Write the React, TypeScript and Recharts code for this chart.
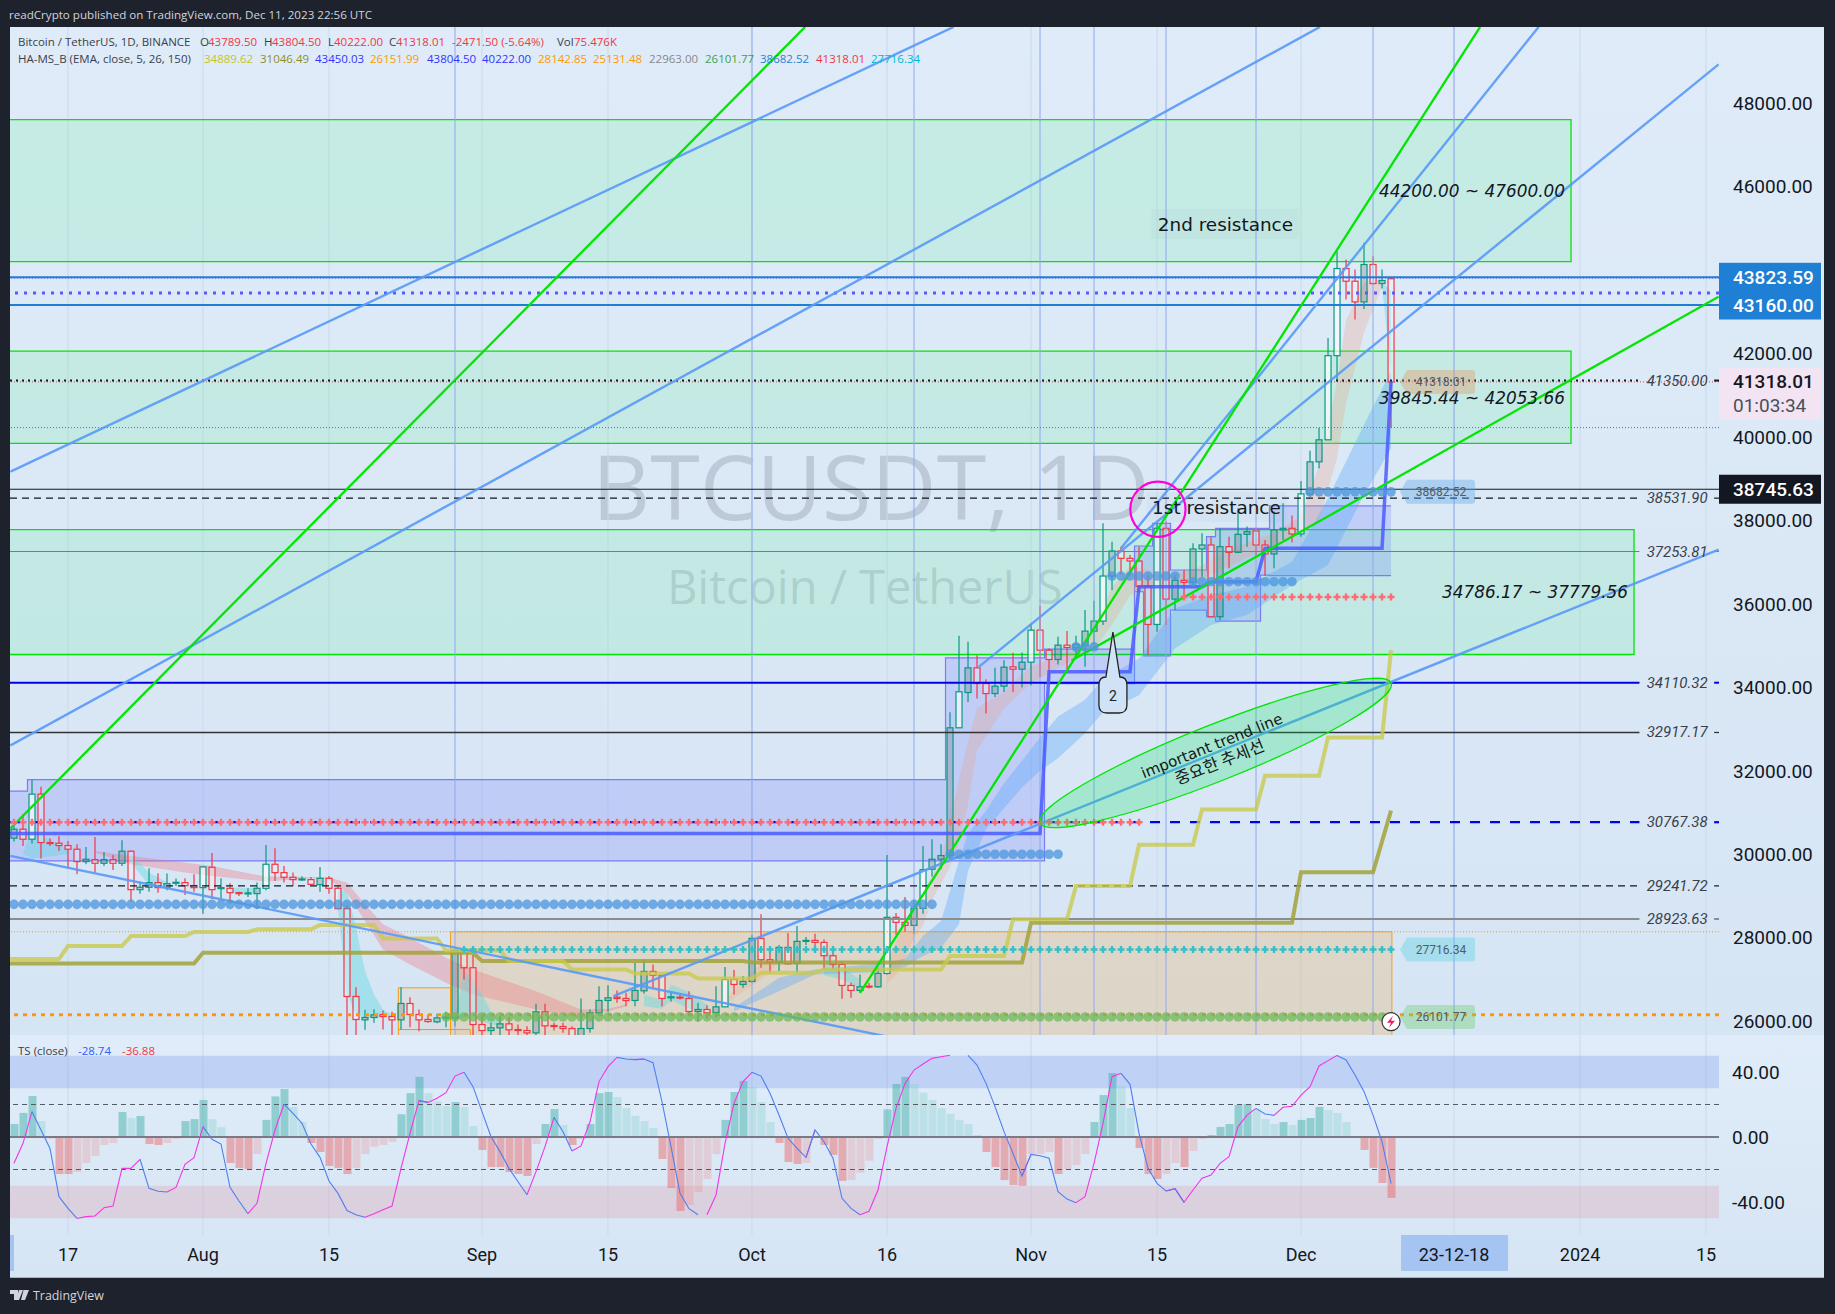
import React from "react";
import { ComposedChart, Bar, Line, Area, XAxis, YAxis, CartesianGrid, ReferenceLine, ReferenceArea, ReferenceDot, Cell } from "recharts";

const opens = [30384,30600,30360,31440,30280,30264,30208,30120,29824,29872,29784,29872,29784,30072,29152,29208,29320,29200,29304,29320,29248,29200,29688,29184,29184,29080,29056,29056,29184,29760,29560,29448,29392,29392,29272,29424,29184,28696,26592,26032,26088,26160,26112,26032,26424,26160,26040,25984,26080,26080,27696,27280,25920,25776,25840,25936,25800,25776,25720,26224,25896,25872,25824,25600,25824,26200,26496,26576,26544,26496,26728,27192,27096,26568,26576,26544,26232,26280,26208,26344,27000,26880,26952,27984,27472,27408,27768,27384,27912,27936,27888,27568,27360,26856,26736,26840,26824,27144,28488,28368,28296,28704,29640,29880,29968,33030,33874,34466,34090,33850,34026,34490,34434,34602,35370,34890,34666,35010,34946,35010,35346,35586,36666,37266,37090,37026,36418,35506,37810,36114,36562,36514,37314,37410,35690,37370,37234,37666,37746,37410,37194,37770,37810,37674,38634,39402,39930,41946,44034,43730,43234,44130,43674,43789.5];
const highs = [30800,30960,31776,31616,30384,30440,30320,30240,30176,30416,30056,29984,30336,30090,29344,29664,29544,29536,29416,29424,29520,29712,30032,29424,29304,29104,29184,29320,30224,30144,29720,29560,29472,29456,29696,29480,29240,28784,26816,26272,26288,26256,26224,26816,26576,26280,26160,26176,26224,27720,27720,27584,26144,25960,26120,26096,25920,25880,26416,26416,25960,25960,25880,26544,26280,26840,26864,26736,26680,27392,27464,27360,27120,26720,26640,26720,26440,26384,26840,27296,27224,27080,28064,28560,27664,27824,28112,28280,28016,28096,27960,27760,27440,26920,27120,26920,27280,29984,28592,28976,28896,30200,30360,30240,33400,35237,35090,34770,34194,34466,34650,34826,34834,35530,35954,34930,35210,35346,35234,35850,36074,37930,37490,37370,37170,37370,36690,37930,37970,36690,36810,37450,37690,37610,37810,37610,38290,37850,37810,37530,38210,38410,38114,38946,39666,40210,42370,44450,44250,44010,44650,44330,44010,43804.5];
const lows = [30304,30200,30256,29896,30200,30080,29664,29520,29760,29560,29720,29624,29720,28864,29056,29104,29080,29136,29240,29024,29104,28576,28928,28944,28816,29000,28976,28688,29136,29360,29320,29240,29360,29264,29104,29056,28680,25400,25300,25792,25960,25800,25500,25800,25856,25760,25960,25952,25856,25880,27000,25500,25500,25500,25500,25500,25500,25500,25500,25500,25776,25720,25500,25500,25720,26144,26224,26440,26360,26360,26656,26800,26360,26464,26520,26120,25984,26064,26096,26344,26640,26800,26920,27280,27152,27200,27360,27152,27824,27680,27248,27240,26536,26560,26680,26784,26800,27120,28080,28144,28096,28576,29464,29640,29900,33030,33650,33730,33370,33770,33890,33890,33994,34050,34250,34090,34546,34434,34690,34490,35010,35490,36330,36690,36674,36290,34770,35330,35490,35850,36130,36450,36650,35690,35610,36850,37210,37370,37130,36674,36850,37530,37474,37610,38570,39250,39930,41370,43290,42810,43066,43650,43554,40222];
const closes = [30600,30360,31440,30280,30272,30208,30120,29824,29880,29784,29872,29784,30072,29152,29208,29320,29200,29296,29328,29248,29200,29696,29152,29200,29080,29056,29072,29184,29760,29560,29448,29392,29408,29280,29424,29184,28696,26592,26040,26088,26152,26112,26032,26424,26160,26032,25992,26080,26096,27696,27280,25920,25776,25840,25936,25792,25776,25720,26224,25888,25880,25824,25600,25824,26200,26496,26560,26544,26496,26736,27192,27096,26544,26584,26560,26232,26280,26200,26344,27000,26880,26952,27984,27472,27408,27768,27376,27912,27936,27888,27568,27360,26856,26736,26824,26824,27144,28488,28368,28296,28704,29632,29880,29968,33030,33893,34466,34090,33850,34026,34482,34434,34602,35370,34890,34666,35010,34954,35026,35346,35586,36666,37266,37090,37026,36418,35506,37810,36114,36562,36514,37314,37410,35690,37370,37234,37666,37730,37410,37194,37770,37810,37674,38634,39402,39930,41946,44034,43730,43234,44130,43674,43746,41318.01];
const whiteBodies = [2,21,28,79,97,101,105,113,121,127,143,146,147];

const priceGrid = [26000,28000,30000,32000,34000,36000,38000,40000,42000,44000,46000,48000];
const priceTicks = [26000,28000,30000,32000,34000,36000,38000,40000,42000,46000,48000];
const dateTicks = [6,21,35,52,66,82,97,113,127,143,160,174,188];
const dateLabels = ["17","Aug","15","Sep","15","Oct","16","Nov","15","Dec","23-12-18","2024","15"];
const blueVerticals = [49,82,100,114,120,128,138,151,160];

const resistanceZones = [
  { to: 173, lo: 44200, hi: 47600 },
  { to: 173, lo: 39845.44, hi: 42053.66 },
  { to: 180, lo: 34786.17, hi: 37779.56 },
];

const fullLines = [
  { price: 43823.59, color: "#1f7fd4", w: 2, dash: "" },
  { price: 43160, color: "#1f7fd4", w: 2, dash: "" },
  { price: 43450.03, color: "#5a5aff", w: 3, dash: "3 6" },
  { price: 43804.5, color: "#5a5aff", w: 1, dash: "1 2" },
  { price: 41318.01, color: "#f23645", w: 1, dash: "1 2" },
  { price: 40222, color: "#5a5aff", w: 1, dash: "1 2" },
  { price: 38745.63, color: "#131722", w: 1.2, dash: "" },
  { price: 28142.85, color: "#ff9800", w: 1, dash: "1 2" },
  { price: 26151.99, color: "#ff9800", w: 3, dash: "4 5" },
];
const labelledLines = [
  { price: 41350, color: "#131722", w: 2, dash: "2 4", text: "41350.00" },
  { price: 38531.9, color: "#131722", w: 1.2, dash: "7 5", text: "38531.90" },
  { price: 37253.81, color: "#c85a5a", w: 1, dash: "", text: "37253.81" },
  { price: 34110.32, color: "#0000e6", w: 2, dash: "", text: "34110.32" },
  { price: 32917.17, color: "#333333", w: 1.3, dash: "", text: "32917.17" },
  { price: 30767.38, color: "#0000f0", w: 2.2, dash: "10 10", text: "30767.38" },
  { price: 29241.72, color: "#131722", w: 1.2, dash: "7 5", text: "29241.72" },
  { price: 28448, color: "#8c8c8c", w: 2, dash: "", text: "28923.63" },
];

const blueTrends = [
  [-0.4, 39168, 104.4, 49823],
  [-0.4, 32606, 145.1, 49823],
  [-0.4, 29960, 96.8, 25640],
  [66.6, 26600, 189.4, 37300],
  [107.2, 34490, 189.4, 48926],
  [123, 37330, 169.4, 49823],
];
const greenTrends = [
  [-0.4, 30620, 87.9, 49823],
  [94, 26680, 162.9, 49823],
  [117.5, 34640, 189.4, 43360],
];

const yellowSteps = [[-1,27488],[5,27488],[6,27800],[12,27800],[13,28040],[19,28040],[20,28136],[26,28136],[27,28200],[33,28200],[34,28304],[40,28304],[41,27984],[47,27984],[48,27696],[54,27696],[55,27440],[61,27440],[62,27240],[68,27240],[69,27140],[75,27140],[76,27024],[82,27024],[83,27160],[89,27160],[90,27240],[103,27240],[104,27560],[110,27560],[111,28440],[117,28440],[118,29240],[124,29240],[125,30228],[131,30228],[132,31070],[138,31070],[139,31880],[145,31880],[146,32800],[152,32800],[153,34889.62]];
const oliveSteps = [[-1,27384],[20,27384],[21,27640],[51,27640],[52,27440],[81,27440],[82,27408],[112,27408],[113,28360],[142,28360],[143,29570],[151,29570],[153,31046.49]];
const trendStair = [[-1,30500],[114,30500],[115,34370],[124,34370],[125,36410],[132,36410],[133,36530],[138,36530],[139,37330],[152,37330],[153,41318]];

const boxSteps = [
  [-1,1,29840,31510],[2,103,29840,31790],[104,114,29840,34706],[115,124,34090,34914],[125,125,36290,37386],[126,126,34754,37386],[127,128,34754,37930],[129,132,35850,36810],[133,133,35690,37610],[134,138,35586,37810],[139,139,36690,37810],[140,153,36674,38346],
];

const pinkFall = [[9,30040,30080],[13,29760,29960],[19,29560,29800],[22,29480,29720],[28,29344,29464],[33,29424,29456],[35,29400,29440],[37,29080,29320],[39,28400,28800],[41,27720,28320],[44,27360,28000],[48,26920,27520],[51,26640,27240],[58,26280,26720],[63,26080,26280],[66,26240,26300],[68,26350,26400]];
const tealOne = [[1,30000,30020],[2,29900,30600],[4,29950,30350],[6,30000,30120]];
const tealTwo = [[13,29800,30000],[15,29260,29560],[17,29250,29330]];
const tealThree = [[24,29080,29200],[27,29060,29200]];
const tealFour = [[36,28700,29150],[37,26640,29120],[38,26160,28240],[39,26080,27200],[40,26080,26640],[41,26080,26280],[42,26090,26160]];
const tealFive = [[49,26000,26100],[50,26100,27200],[51,26100,26960],[52,26000,26640],[53,25920,26240],[54,25900,26000]];
const tealSix = [[70,26360,26640],[72,26300,26500],[73,26500,26880],[75,26300,26700],[77,26260,26400]];
const tealSeven = [[90,27100,27760],[92,27000,27300],[94,26800,27000]];
const tealEight = [[152,43600,43700],[153,41600,43500]];
const skyRise = [[80,26240,26320],[85,26720,27040],[89,27120,27240],[97,27184,27400],[99,27300,27500],[101,27560,28040],[103,27760,28400],[105,28320,29840],[106,29600,30500],[108,30600,31040],[110,31100,31700],[112,31600,32240],[114,32000,32800],[116,32300,33300],[119,32900,33700],[121,33400,34200],[125,33810,34690],[129,34930,35890],[133,35490,36210],[137,35730,36410],[142,36450,37010],[146,36930,38530],[150,38610,40290],[153,39730,41570]];
const peachRise = [[79,26400,26500],[83,27000,27400],[85,27400,27500]];
const peachRiseTwo = [[97,26900,27400],[98,27100,27900],[99,27500,28400],[100,28000,28700],[101,28300,29100],[102,28900,29500],[103,29300,29900],[104,29700,30800],[105,30300,31800],[106,31200,32700],[107,32500,33500],[110,33500,33900],[113,34100,34500],[118,34700,34900],[120,34900,35400],[122,35500,36400],[124,36200,36900],[128,36600,36700],[131,36500,36800],[135,36900,37300],[140,37400,37700],[143,37700,38100],[145,38000,39300],[147,39500,41300],[148,40800,42800],[150,42500,43700],[152,43600,43800]];

const blueDotRuns = [[0,102,28800],[104,116,30000],[118,120,34970],[122,129,36666],[131,142,36530],[144,153,38682.52]];
const greenDotRuns = [[48,153,26101.77]];
const redPlusRuns = [[0,125,30767.38],[130,153,36164]];
const tealPlusRuns = [[50,153,27716.34]];

const histValues = [8,14.8,25.2,9.8,-1,-22.8,-22.8,-21.5,-16,-11.7,-4.9,-3.7,15.4,11.7,12.9,-4.3,-4.9,-3.7,-1.2,9.8,11,22.8,11,6,-16,-19,-19.7,-10.5,10.5,25,29.5,18.5,9.2,-3.7,-9.2,-17.8,-19,-22.8,-19,-10.5,-6,-4.9,-3,14,27,37,27,22,19,21.5,18.5,6.8,-8,-18.5,-18.5,-21.5,-22.8,-24,-4.3,8,17.2,7.4,-4.9,-1.2,8,27,27.7,24.6,17.8,13,9.8,5.5,-13.5,-31.4,-45.5,-41.8,-33.8,-25.8,-10.5,10.5,27.7,34.5,30.8,21.5,9.2,-3.7,-15.4,-16.6,-16,0,-4.9,-11,-27,-26.5,-22,-14.6,-1.2,17,32.6,37,32.6,27.3,22.8,17.8,14.2,10.5,8,1.2,-9.2,-18.5,-26.5,-29.5,-30,-10.5,-10.5,-9.2,-22.8,-20,-17.2,-10.5,9.2,25.8,39.4,31.4,17.8,-6.8,-22.8,-25.8,-22.8,-16,-18.5,-8.6,-1.2,1.2,6.2,8,19.7,20.3,17.2,11,8,9.2,7.4,10.5,11.7,18.5,16.6,14.8,9.2,0,-8,-19,-28.3,-37.5];
const histTones = "GGGgrRRrrrrrGgGRRrrGGGggRRRrGGGggRRRRRrrrrrGGGgggGggRRRRRRrGGgRrGGGgggggRRRrrrrGGGgggRRRrgRRRrrrrGGGggggggggRRRRRrrrRrrrGGGggRRRrrRrrGGGGGgggGgGGGgggrRRRR";
const tsValues = [-16.2,-3.9,15.6,4.3,-7,-36.7,-43.9,-50.1,-49,-48.6,-43.5,-42.5,-19.3,-19.3,-13.7,-31.6,-33.4,-33.8,-31,-16.8,-12.7,6.4,-1.4,-4.3,-31,-39.4,-47.2,-40.8,-16.2,4.3,20.3,14.6,8.4,-4.3,-12.5,-27.1,-34.7,-45.3,-47.8,-49.4,-47.2,-44.7,-42.5,-19.3,2.3,22.4,21.3,23.8,27.3,37.5,39.8,31,15.6,0.2,-9,-19.3,-27.5,-35.5,-21.3,-5.9,12.1,3.3,-8.6,-5.5,9.4,34.1,43.3,49,48,47.6,48,45.7,21.7,-5.9,-34.7,-44.1,-47.8,-47.8,-35.7,-3.9,20.7,34.1,39.8,37.5,26.9,13.5,-0.8,-7,-12.5,4.3,-2.9,-13.1,-37.7,-43.9,-47.8,-45.7,-32.6,-5.9,17.6,33,41.2,44.9,48.4,49.4,50.3,50.3,50.3,44.3,33,18.7,3.3,-10.1,-24,-10.7,-11.5,-13.1,-33.6,-38.2,-40.4,-36.7,-16.2,8.4,37.1,39.2,32.4,2.3,-19.3,-28.5,-33.2,-31.8,-40.2,-32.6,-25.4,-23.4,-16.2,-12.1,6.4,13.5,17.6,14.2,13.3,18.3,18.9,25.8,31,43.7,47,50.1,47.4,38.2,27.9,13.5,-2.9,-28.74];

const legendLine1 = [
  [18, "Bitcoin / TetherUS, 1D, BINANCE", "#3a3f4b"], [200, "O", "#3a3f4b"], [208, "43789.50", "#f23645"], [264, "H", "#3a3f4b"], [272, "43804.50", "#f23645"], [328, "L", "#3a3f4b"], [334, "40222.00", "#f23645"], [389, "C", "#3a3f4b"], [396, "41318.01", "#f23645"], [452, "-2471.50 (-5.64%)", "#f23645"], [557, "Vol", "#3a3f4b"], [574, "75.476K", "#f23645"],
];
const legendLine2 = [
  [18, "HA-MS_B (EMA, close, 5, 26, 150)", "#3a3f4b"], [204, "34889.62", "#c6c617"], [260, "31046.49", "#8f8f1e"], [315, "43450.03", "#3333ff"], [370, "26151.99", "#ff9800"], [427, "43804.50", "#3333ff"], [482, "40222.00", "#3333ff"], [538, "28142.85", "#ff9800"], [593, "25131.48", "#ff9800"], [649, "22963.00", "#888888"], [705, "26101.77", "#43a047"], [760, "38682.52", "#2a7fd0"], [816, "41318.01", "#f23645"], [871, "27716.34", "#00b8d4"],
];

const rows: any[] = [];
for (let i = -1; i <= 190; i++) {
  const row: any = { i };
  if (i >= 0 && i < opens.length) {
    row.range = [lows[i], highs[i]];
    row.open = opens[i]; row.close = closes[i]; row.high = highs[i]; row.low = lows[i];
  }
  rows.push(row);
}
const rowAt = (i: number) => rows[i + 1];
const putRibbon = (key: string, list: number[][]) => list.forEach(([i, lo, hi]) => { rowAt(i)[key] = [lo, hi]; });
const putPoints = (key: string, list: number[][]) => list.forEach(([i, v]) => { rowAt(i)[key] = v; });
const putRuns = (key: string, list: number[][]) => list.forEach(([a, b, v]) => { for (let i = a; i <= b; i++) rowAt(i)[key] = v; });
boxSteps.forEach(([a, b, lo, hi]) => { for (let i = a; i <= b; i++) rowAt(i).box = [lo, hi]; });
const ribbons: [string, number[][], string][] = [
  ["pink", pinkFall, "rgba(240,120,130,0.36)"], ["t1", tealOne, "rgba(90,215,225,0.4)"], ["t2", tealTwo, "rgba(90,215,225,0.4)"], ["t3", tealThree, "rgba(90,215,225,0.4)"], ["t4", tealFour, "rgba(90,215,225,0.4)"], ["t5", tealFive, "rgba(90,215,225,0.4)"], ["t6", tealSix, "rgba(90,215,225,0.4)"], ["t7", tealSeven, "rgba(90,215,225,0.4)"], ["t8", tealEight, "rgba(90,215,225,0.4)"],
  ["sky", skyRise, "rgba(90,165,250,0.36)"], ["p1", peachRise, "rgba(240,150,120,0.22)"], ["p2", peachRiseTwo, "rgba(240,150,120,0.25)"],
];
ribbons.forEach(([k, l]) => putRibbon(k, l));
putPoints("yellow", yellowSteps); putPoints("olive", oliveSteps); putPoints("stair", trendStair);
putRuns("blueDots", blueDotRuns); putRuns("greenDots", greenDotRuns); putRuns("redPlus", redPlusRuns); putRuns("tealPlus", tealPlusRuns);

const subRows = histValues.map((h, i) => {
  const v = tsValues[i], prev = tsValues[i - 1], next = tsValues[i + 1];
  return {
    i, hist: h, tone: histTones[i],
    up: (prev !== undefined && v > prev) || (next !== undefined && next > v) ? v : null,
    down: (prev !== undefined && v < prev) || (next !== undefined && next < v) ? v : null,
  };
});
const toneColor: any = { G: "rgba(38,166,154,0.42)", g: "rgba(120,205,200,0.32)", R: "rgba(239,83,80,0.42)", r: "rgba(240,130,130,0.27)" };

const X_MIN = -0.444, X_MAX = 189.44;
const PRICE_MIN = 25669, PRICE_MAX = 49821;
const sans = "Roboto, 'Open Sans', sans-serif";
const tvText = "'Open Sans', Roboto, sans-serif";

const candleShape = (p: any) => {
  const d = p.payload;
  if (!d || d.open === undefined || !p.height) return <g />;
  const py = (v: number) => p.y + ((d.high - v) / (d.high - d.low)) * p.height;
  const up = d.close >= d.open;
  const c = up ? "#089981" : "#f23645";
  const cx = p.x + p.width / 2;
  const t = py(Math.max(d.open, d.close)), b = py(Math.min(d.open, d.close));
  const fill = up ? (whiteBodies.includes(d.i) ? "rgba(255,255,255,0.65)" : "rgba(110,120,125,0.3)") : "rgba(255,255,255,0.28)";
  return (
    <g>
      <line x1={cx} x2={cx} y1={p.y} y2={t} stroke={c} strokeWidth={1.2} />
      <line x1={cx} x2={cx} y1={b} y2={p.y + p.height} stroke={c} strokeWidth={1.2} />
      <rect x={cx - 3} y={t} width={6} height={Math.max(b - t, 1)} fill={fill} stroke={c} strokeWidth={1.2} />
    </g>
  );
};
const plusDot = (color: string) => (p: any) => {
  if (p.cy == null || p.value == null) return <g key={p.index} />;
  return <path key={p.index} d={`M${p.cx - 3.5} ${p.cy}H${p.cx + 3.5}M${p.cx} ${p.cy - 3.5}V${p.cy + 3.5}`} stroke={color} strokeWidth={2.4} />;
};
const noteText = (text: string, size: number, opts: any = {}) => (p: any) => (
  <g>
    {opts.bg ? <rect x={p.cx - opts.bgW / 2} y={p.cy - 15} width={opts.bgW} height={30} fill="rgba(120,130,150,0.05)" /> : null}
    <text x={p.cx} y={p.cy} textAnchor="middle" dominantBaseline="central" fontSize={size} fontStyle={opts.italic ? "italic" : "normal"} fontFamily={opts.family || "'DejaVu Sans', sans-serif"} fill="#131722" transform={opts.rotate ? `rotate(${opts.rotate} ${p.cx} ${p.cy})` : undefined}>{text}</text>
  </g>
);
const levelText = (text: string) => (p: any) => (
  <text x={p.cx} y={p.cy} dominantBaseline="central" fontSize={15} fontStyle="italic" fontFamily={sans} fill="#3a3f4b">{text}</text>
);
const priceTag = (fill: string, line1: string, ink: string, line2?: string) => (p: any) => (
  <g>
    <rect x={p.cx} y={p.cy - (line2 ? 14 : 14.5)} width={102} height={line2 ? 52 : 29} fill={fill} />
    <text x={p.cx + 14} y={p.cy} dominantBaseline="central" fontSize={19} fontWeight={500} fontFamily={sans} fill={ink}>{line1}</text>
    {line2 ? <text x={p.cx + 14} y={p.cy + 24} dominantBaseline="central" fontSize={19} fontFamily={sans} fill="#4a4f5b">{line2}</text> : null}
  </g>
);
const sideTag = (fill: string, text: string) => (p: any) => (
  <g>
    <path d={`M${p.cx + 9} ${p.cy}L${p.cx + 16} ${p.cy - 12}H${p.cx + 81}Q${p.cx + 84} ${p.cy - 12} ${p.cx + 84} ${p.cy - 9}V${p.cy + 9}Q${p.cx + 84} ${p.cy + 12} ${p.cx + 81} ${p.cy + 12}H${p.cx + 16}Z`} fill={fill} />
    <text x={p.cx + 50} y={p.cy} textAnchor="middle" dominantBaseline="central" fontSize={12} fontFamily={sans} fill="#555b66">{text}</text>
  </g>
);
const ellipseShape = (p: any) => (
  <ellipse cx={p.cx} cy={p.cy} rx={189} ry={28} transform={`rotate(-21.7 ${p.cx} ${p.cy})`} fill="rgba(0,230,90,0.24)" stroke="#00e600" strokeWidth={1.3} />
);
const circleShape = (p: any) => <circle cx={p.cx} cy={p.cy} r={27.6} fill="none" stroke="#ff00dd" strokeWidth={2.2} />;
const balloonShape = (p: any) => {
  const { cx, cy } = p;
  return (
    <g>
      <path d={`M${cx - 7} ${cy - 18}L${cx} ${cy - 63}L${cx + 7} ${cy - 18}H${cx + 7}Q${cx + 14} ${cy - 18} ${cx + 14} ${cy - 10}V${cy + 10}Q${cx + 14} ${cy + 18} ${cx + 6} ${cy + 18}H${cx - 6}Q${cx - 14} ${cy + 18} ${cx - 14} ${cy + 10}V${cy - 10}Q${cx - 14} ${cy - 18} ${cx - 7} ${cy - 18}Z`} fill="#cfe2f6" stroke="#222" strokeWidth={1.3} />
      <text x={cx} y={cy + 1} textAnchor="middle" dominantBaseline="central" fontSize={14} fontFamily={sans} fill="#222">2</text>
    </g>
  );
};
const boltShape = (p: any) => (
  <g>
    <circle cx={p.cx} cy={p.cy} r={9} fill="#fff" stroke="#333" strokeWidth={1.2} />
    <path d={`M${p.cx + 2} ${p.cy - 6}L${p.cx - 4} ${p.cy + 1}H${p.cx}L${p.cx - 2} ${p.cy + 6}L${p.cx + 4} ${p.cy - 1}H${p.cx}Z`} fill="#e91e63" />
  </g>
);

const XTick = (p: any) => {
  const pos = dateTicks.indexOf(p.payload.value);
  if (pos < 0) return <rect x={0} y={200} width={4} height={36} fill="#a6c4f2" />;
  const label = dateLabels[pos];
  const hi = label === "23-12-18";
  return (
    <g>
      {hi ? <rect x={p.x - 53} y={p.y - 8} width={107} height={36} fill="#a6c4f2" /> : null}
      <text x={p.x} y={p.y + 11} textAnchor="middle" dominantBaseline="central" fontSize={18} fontFamily={sans} fill="#131722">{label}</text>
    </g>
  );
};

export default function App() {
  return (
    <div style={{ position: "absolute", left: 0, top: 0, width: 1835, height: 1314, background: "#1e222d", overflow: "hidden" }}>
      <div style={{ position: "absolute", left: 9, top: 7, fontSize: 11.6, fontFamily: tvText, color: "#d1d4dc", whiteSpace: "nowrap" }}>readCrypto published on TradingView.com, Dec 11, 2023 22:56 UTC</div>

      <div style={{ position: "absolute", left: 10, top: 27, width: 1814, height: 1008, background: "linear-gradient(#dfebf8,#d6e5f4)" }} />
      <div style={{ position: "absolute", left: 10, top: 1035, width: 1814, height: 243, background: "linear-gradient(#e0ecf9,#d6e5f4)", borderBottom: "1px solid #a9b2bd", boxSizing: "border-box" }} />

      <div style={{ position: "absolute", left: 592, top: 430, fontSize: 90, fontFamily: tvText, color: "rgba(110,120,140,0.27)", whiteSpace: "nowrap", lineHeight: "110px" }}>BTCUSDT, 1D</div>
      <div style={{ position: "absolute", left: 667, top: 557, fontSize: 47, fontFamily: tvText, color: "rgba(110,120,140,0.27)", whiteSpace: "nowrap", lineHeight: "58px" }}>Bitcoin / TetherUS</div>

      <div style={{ position: "absolute", left: 10, top: 27 }}>
        <ComposedChart width={1814} height={1008} data={rows} margin={{ top: 0, right: 0, bottom: 0, left: 0 }}>
          <CartesianGrid stroke="#cbd9ea" horizontalValues={priceGrid} verticalValues={dateTicks} />
          <XAxis dataKey="i" type="number" domain={[X_MIN, X_MAX]} allowDataOverflow hide height={0} />
          <YAxis yAxisId="p" orientation="right" width={105} domain={[PRICE_MIN, PRICE_MAX]} allowDataOverflow ticks={priceTicks} interval={0} axisLine={false} tickLine={false} tickSize={0} tickMargin={14} tickFormatter={(v: number) => v.toFixed(2)} tick={{ fontSize: 19, fill: "#131722", fontFamily: sans }} />

          {resistanceZones.map((z, k) => (
            <ReferenceArea key={k} yAxisId="p" x1={-20} x2={z.to} y1={z.lo} y2={z.hi} fill="rgba(60,240,120,0.14)" fillOpacity={1} stroke="#00e600" strokeWidth={1.3} ifOverflow="hidden" />
          ))}
          <ReferenceArea yAxisId="p" x1={48.5} x2={153.1} y1={25000} y2={28142.85} fill="rgba(255,152,0,0.18)" fillOpacity={1} stroke="#f0a030" strokeWidth={1} ifOverflow="hidden" />
          <ReferenceArea yAxisId="p" x1={42.7} x2={48.5} y1={25800} y2={26800} fill="rgba(255,152,0,0.06)" fillOpacity={1} stroke="#ff9800" strokeWidth={1} ifOverflow="hidden" />
          <ReferenceArea yAxisId="p" x1={42.7} x2={50.7} y1={25000} y2={25800} fill="rgba(255,152,0,0.06)" fillOpacity={1} stroke="#ff9800" strokeWidth={1} ifOverflow="hidden" />

          {blueVerticals.map((v) => (
            <ReferenceLine key={v} yAxisId="p" x={v} stroke="#8fa9ee" strokeWidth={1} ifOverflow="hidden" />
          ))}

          <Area yAxisId="p" dataKey="box" type="step" fill="rgba(80,90,255,0.18)" fillOpacity={1} stroke="#7b7bf5" strokeWidth={1.2} connectNulls={false} isAnimationActive={false} dot={false} activeDot={false} />
          {ribbons.map(([k, , color]) => (
            <Area key={k} yAxisId="p" dataKey={k} type="linear" fill={color} fillOpacity={1} stroke="none" connectNulls isAnimationActive={false} dot={false} activeDot={false} />
          ))}

          {fullLines.map((l) => (
            <ReferenceLine key={l.price} yAxisId="p" y={l.price} stroke={l.color} strokeWidth={l.w} strokeDasharray={l.dash} ifOverflow="hidden" />
          ))}
          {labelledLines.map((l) => (
            <ReferenceLine key={l.price} yAxisId="p" segment={[{ x: X_MIN, y: l.price }, { x: 180.6, y: l.price }]} stroke={l.color} strokeWidth={l.w} strokeDasharray={l.dash} ifOverflow="hidden" />
          ))}
          {labelledLines.map((l) => (
            <ReferenceLine key={"e" + l.price} yAxisId="p" segment={[{ x: 188.9, y: l.price }, { x: X_MAX, y: l.price }]} stroke={l.color} strokeWidth={l.w} ifOverflow="hidden" />
          ))}
          {labelledLines.map((l) => (
            <ReferenceDot key={"t" + l.price} yAxisId="p" x={181.4} y={l.price} r={0} ifOverflow="visible" shape={levelText(l.text)} />
          ))}

          <Line yAxisId="p" dataKey="olive" stroke="#a3a23a" strokeOpacity={0.85} strokeWidth={4} dot={false} activeDot={false} connectNulls isAnimationActive={false} />
          <Line yAxisId="p" dataKey="yellow" stroke="#c9c94a" strokeOpacity={0.78} strokeWidth={4} dot={false} activeDot={false} connectNulls isAnimationActive={false} />

          <Line yAxisId="p" dataKey="blueDots" stroke="none" dot={{ r: 4.8, fill: "#4f97dc", fillOpacity: 0.78, stroke: "none" }} activeDot={false} isAnimationActive={false} />
          <Line yAxisId="p" dataKey="greenDots" stroke="none" dot={{ r: 4.8, fill: "#66b85c", fillOpacity: 0.72, stroke: "none" }} activeDot={false} isAnimationActive={false} />

          <Bar yAxisId="p" dataKey="range" barSize={7} shape={candleShape} isAnimationActive={false} />

          <Line yAxisId="p" dataKey="stair" stroke="#4a5cff" strokeOpacity={0.85} strokeWidth={3.5} dot={false} activeDot={false} connectNulls isAnimationActive={false} />
          <Line yAxisId="p" dataKey="redPlus" stroke="none" dot={plusDot("#ff6b72")} activeDot={false} isAnimationActive={false} />
          <Line yAxisId="p" dataKey="tealPlus" stroke="none" dot={plusDot("#35c0c8")} activeDot={false} isAnimationActive={false} />

          <ReferenceDot yAxisId="p" x={133.5} y={32426} r={0} ifOverflow="visible" shape={ellipseShape} />

          {blueTrends.map((t, k) => (
            <ReferenceLine key={"b" + k} yAxisId="p" segment={[{ x: t[0], y: t[1] }, { x: t[2], y: t[3] }]} stroke="#5a9af7" strokeOpacity={0.92} strokeWidth={2.4} ifOverflow="hidden" />
          ))}
          {greenTrends.map((t, k) => (
            <ReferenceLine key={"g" + k} yAxisId="p" segment={[{ x: t[0], y: t[1] }, { x: t[2], y: t[3] }]} stroke="#00e600" strokeWidth={2.3} ifOverflow="hidden" />
          ))}

          <ReferenceDot yAxisId="p" x={127.1} y={38265} r={0} ifOverflow="visible" shape={circleShape} />
          <ReferenceDot yAxisId="p" x={122.1} y={33816} r={0} ifOverflow="visible" shape={balloonShape} />
          <ReferenceDot yAxisId="p" x={153} y={25988} r={0} ifOverflow="visible" shape={boltShape} />

          <ReferenceDot yAxisId="p" x={134.6} y={45100} r={0} ifOverflow="visible" shape={noteText("2nd resistance", 18.4, { bg: true, bgW: 148 })} />
          <ReferenceDot yAxisId="p" x={133.6} y={38320} r={0} ifOverflow="visible" shape={noteText("1st resistance", 18.4, { bg: true, bgW: 140 })} />
          <ReferenceDot yAxisId="p" x={162} y={45900} r={0} ifOverflow="visible" shape={noteText("44200.00 ~ 47600.00", 16.9, { italic: true })} />
          <ReferenceDot yAxisId="p" x={162} y={40930} r={0} ifOverflow="visible" shape={noteText("39845.44 ~ 42053.66", 16.9, { italic: true })} />
          <ReferenceDot yAxisId="p" x={169} y={36280} r={0} ifOverflow="visible" shape={noteText("34786.17 ~ 37779.56", 16.9, { italic: true })} />
          <ReferenceDot yAxisId="p" x={133.1} y={32594} r={0} ifOverflow="visible" shape={noteText("important trend line", 15, { rotate: -21.8 })} />
          <ReferenceDot yAxisId="p" x={133.9} y={32234} r={0} ifOverflow="visible" shape={noteText("중요한 추세선", 16.5, { rotate: -21.8, family: "'Noto Sans CJK KR', sans-serif" })} />

          <ReferenceDot yAxisId="p" x={153} y={41318.01} r={0} ifOverflow="visible" shape={sideTag("rgba(225,150,100,0.38)", "41318.01")} />
          <ReferenceDot yAxisId="p" x={153} y={38682.52} r={0} ifOverflow="visible" shape={sideTag("rgba(90,165,235,0.38)", "38682.52")} />
          <ReferenceDot yAxisId="p" x={153} y={27716.34} r={0} ifOverflow="visible" shape={sideTag("rgba(90,210,225,0.38)", "27716.34")} />
          <ReferenceDot yAxisId="p" x={153} y={26101.77} r={0} ifOverflow="visible" shape={sideTag("rgba(110,205,110,0.38)", "26101.77")} />

          <ReferenceDot yAxisId="p" x={X_MAX} y={43823.59} r={0} ifOverflow="visible" shape={priceTag("#1f7fd4", "43823.59", "#ffffff")} />
          <ReferenceDot yAxisId="p" x={X_MAX} y={43160} r={0} ifOverflow="visible" shape={priceTag("#1f7fd4", "43160.00", "#ffffff")} />
          <ReferenceDot yAxisId="p" x={X_MAX} y={41318.01} r={0} ifOverflow="visible" shape={priceTag("#f3e4f3", "41318.01", "#131722", "01:03:34")} />
          <ReferenceDot yAxisId="p" x={X_MAX} y={38745.63} r={0} ifOverflow="visible" shape={priceTag("#131722", "38745.63", "#ffffff")} />
        </ComposedChart>
      </div>

      <div style={{ position: "absolute", left: 10, top: 1035 }}>
        <ComposedChart width={1814} height={243} data={subRows} margin={{ top: 0, right: 0, bottom: 0, left: 0 }}>
          <CartesianGrid stroke="#cbd9ea" horizontalValues={[40, -40]} verticalValues={dateTicks} />
          <XAxis dataKey="i" type="number" domain={[X_MIN, X_MAX]} allowDataOverflow height={43} ticks={[...dateTicks, X_MIN]} interval={0} axisLine={false} tickLine={false} tick={XTick} />
          <YAxis yAxisId="s" orientation="right" width={105} domain={[-60.3, 62.77]} allowDataOverflow ticks={[40, 0, -40]} interval={0} axisLine={false} tickLine={false} tickSize={0} tickMargin={13} tickFormatter={(v: number) => v.toFixed(2)} tick={{ fontSize: 19, fill: "#131722", fontFamily: sans }} />
          <ReferenceArea yAxisId="s" x1={X_MIN} x2={X_MAX} y1={30} y2={50} fill="rgba(90,130,240,0.24)" fillOpacity={1} stroke="none" />
          <ReferenceArea yAxisId="s" x1={X_MIN} x2={X_MAX} y1={-50} y2={-30} fill="rgba(230,120,130,0.2)" fillOpacity={1} stroke="none" />
          <ReferenceLine yAxisId="s" y={20} stroke="#555b66" strokeDasharray="5 4" strokeWidth={1} />
          <ReferenceLine yAxisId="s" y={-20} stroke="#555b66" strokeDasharray="5 4" strokeWidth={1} />
          <Bar yAxisId="s" dataKey="hist" barSize={8} isAnimationActive={false}>
            {subRows.map((r) => <Cell key={r.i} fill={toneColor[r.tone]} />)}
          </Bar>
          <ReferenceLine yAxisId="s" y={0} stroke="#787b86" strokeWidth={2} />
          <Line yAxisId="s" dataKey="up" stroke="#f236e6" strokeWidth={1.1} dot={false} activeDot={false} isAnimationActive={false} />
          <Line yAxisId="s" dataKey="down" stroke="#4f7ff0" strokeWidth={1.1} dot={false} activeDot={false} isAnimationActive={false} />
        </ComposedChart>
      </div>

      {[legendLine1, legendLine2].map((line, k) => line.map(([x, text, color]) => (
        <div key={k + String(x)} style={{ position: "absolute", left: x as number, top: k === 0 ? 33 : 50, fontSize: 11.5, fontFamily: tvText, color: color as string, whiteSpace: "nowrap", lineHeight: "17px" }}>{text}</div>
      )))}
      <div style={{ position: "absolute", left: 18, top: 1042, fontSize: 11.5, fontFamily: tvText, color: "#3a3f4b", lineHeight: "17px" }}>TS (close)</div>
      <div style={{ position: "absolute", left: 78, top: 1042, fontSize: 11.5, fontFamily: tvText, color: "#2962ff", lineHeight: "17px" }}>-28.74</div>
      <div style={{ position: "absolute", left: 122, top: 1042, fontSize: 11.5, fontFamily: tvText, color: "#f23645", lineHeight: "17px" }}>-36.88</div>

      <svg style={{ position: "absolute", left: 10, top: 1289 }} width={20} height={14} viewBox="0 0 20 14">
        <path d="M0 1H8V11H4V5H0ZM9 1H13L9 11H5.8ZM13.5 1H19L15 11H11Z" fill="#d1d4dc" />
      </svg>
      <div style={{ position: "absolute", left: 33, top: 1287, fontSize: 12.4, fontFamily: tvText, color: "#d1d4dc", whiteSpace: "nowrap", lineHeight: "18px" }}>TradingView</div>
    </div>
  );
}
